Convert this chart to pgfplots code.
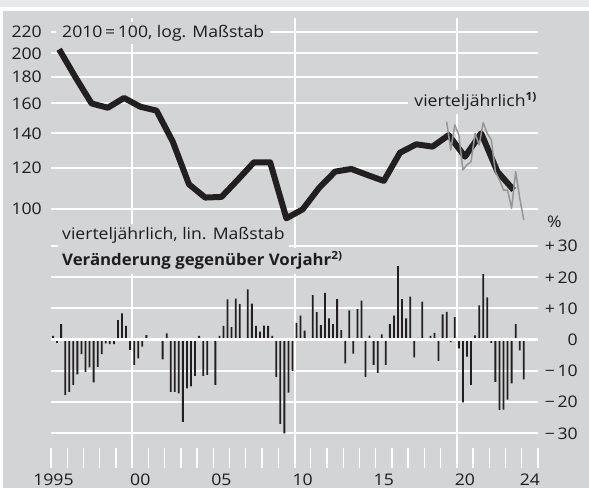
\documentclass[border=0pt]{standalone}
\usepackage{fontspec}
\setmainfont{Open Sans}[FakeStretch=1.1, BoldFeatures={FakeStretch=1.05}]
\usepackage{pgfplots}
\usepackage{pgfplotstable}
\pgfplotsset{compat=1.18}
\definecolor{bg}{RGB}{211,212,214}
\definecolor{strip}{RGB}{232,233,235}
\definecolor{txt}{RGB}{30,28,29}
\definecolor{barc}{RGB}{35,31,32}
\definecolor{qline}{RGB}{150,150,150}

\pgfplotstableread{
x y
1995.5 203.7
1996.5 180
1997.5 160
1998.5 157
1999.5 164
2000.5 157.7
2001.5 155
2002.5 135
2003.5 111.6
2004.5 105.2
2005.5 105.5
2006.5 113.8
2007.5 123.1
2008.5 123.1
2009.5 95.9
2010.5 99.8
2011.5 109.7
2012.5 118.1
2013.5 119.5
2014.5 116.3
2015.5 113.3
2016.5 128.5
2017.5 133.4
2018.5 132
2019.5 139
2020.5 126.2
2021.5 140.1
2022.5 118.1
2023.5 108.8
}\annual

\pgfplotstableread{
x y
2019.375 147.5
2019.625 130
2019.875 145.4
2020.125 139
2020.375 119
2020.625 121.7
2020.875 123.5
2021.125 140
2021.375 133
2021.625 146.9
2021.875 140
2022.125 136
2022.375 118
2022.625 113.8
2022.875 108.8
2023.125 108.8
2023.375 100.3
2023.625 118
2023.875 104.9
2024.125 95.2
}\quarterly

\pgfplotstableread{
x y
1995.125 1.2
1995.375 -1.0
1995.625 5.0
1995.875 -17.8
1996.125 -16.7
1996.375 -14.5
1996.625 -11.1
1996.875 -4.6
1997.125 -10.3
1997.375 -8.9
1997.625 -13.7
1997.875 -8.7
1998.125 -4.6
1998.375 -1.2
1998.625 -1.4
1998.875 -1.4
1999.125 6.3
1999.375 8.4
1999.625 4.4
1999.875 -3.3
2000.125 -8.1
2000.375 -6.0
2000.625 -2.2
2000.875 1.5
2001.125 -0.4
2001.375 0.3
2001.625 -0.3
2001.875 -6.3
2002.125 2.0
2002.375 -16.7
2002.625 -16.7
2002.875 -17.2
2003.125 -26.3
2003.375 -15.6
2003.625 -15.0
2003.875 -11.6
2004.125 1.2
2004.375 -11.6
2004.625 -11.3
2004.875 0.3
2005.125 -14.5
2005.375 1.2
2005.625 4.4
2005.875 12.9
2006.125 4.0
2006.375 13.2
2006.625 11.4
2006.875 0.3
2007.125 16.1
2007.375 11.6
2007.625 4.4
2007.875 2.6
2008.125 4.5
2008.375 4.4
2008.625 1.2
2008.875 -11.9
2009.125 -27.0
2009.375 -30.0
2009.625 -17.0
2009.875 -10.0
2010.125 5.4
2010.375 7.7
2010.625 2.9
2010.875 -0.2
2011.125 14.3
2011.375 8.8
2011.625 4.7
2011.875 15.0
2012.125 6.8
2012.375 5.0
2012.625 13.0
2012.875 3.1
2013.125 -7.6
2013.375 9.4
2013.625 -4.5
2013.875 9.8
2014.125 12.5
2014.375 -11.9
2014.625 1.3
2014.875 -8.1
2015.125 -10.6
2015.375 1.7
2015.625 -8.1
2015.875 5.0
2016.125 7.7
2016.375 23.6
2016.625 13.0
2016.875 6.8
2017.125 13.8
2017.375 -5.7
2017.625 0.6
2017.875 12.2
2018.125 0.3
2018.375 1.2
2018.625 2.2
2018.875 -6.8
2019.125 8.1
2019.375 8.9
2019.625 -0.8
2019.875 7.2
2020.125 -2.8
2020.375 -20.1
2020.625 -5.4
2020.875 -14.5
2021.125 1.4
2021.375 11.0
2021.625 21.0
2021.875 13.6
2022.125 -1.0
2022.375 -13.5
2022.625 -22.5
2022.875 -22.4
2023.125 -19.2
2023.375 -14.0
2023.625 5.0
2023.875 -3.4
2024.125 -12.7
}\change

\begin{document}
\begin{tikzpicture}[font=\fontsize{16bp}{19bp}\selectfont,text=txt]
\fill[white] (0bp,0bp) rectangle (589bp,488bp);
\fill[strip] (0bp,481bp) rectangle (589bp,488bp);
\fill[bg] (3bp,0bp) rectangle (589bp,477bp);

% top panel: index, log scale
\begin{axis}[
  at={(51bp,263bp)}, anchor=south west, scale only axis,
  width=487bp, height=207bp,
  xmin=1995, xmax=2025, ymode=log, ymin=93.1, ymax=234.2,
  axis line style={draw=none},
  xtick={2000,2010,2020}, xticklabels={},
  ytick={100,120,140,160,180,200,220},
  yticklabels={100,120,140,160,180,200,220},
  major tick length=0.01bp, tick style={draw=none},
  yticklabel style={anchor=east, inner sep=0pt, xshift=-9bp, text=txt},
  grid=major, major grid style={white, line width=2bp},
]
\addplot[no marks, line width=6bp, color=barc, line join=round] table[x=x,y=y]{\annual};
\addplot[no marks, line width=1.5bp, color=qline, line join=round] table[x=x,y=y]{\quarterly};
\end{axis}

% bottom panel: change, linear
\begin{axis}[
  at={(51bp,263bp)}, anchor=north west, scale only axis,
  width=487bp, height=243bp,
  xmin=1995, xmax=2025, ymin=-41.12, ymax=36.76,
  axis line style={draw=none},
  major tick length=0.01bp, tick style={draw=none},
  xtick={2000,2010,2020}, xticklabels={},
  ytick={-30,-20,-10,0,10,20,30},
  yticklabels={−\,30,−\,20,−\,10,0,+\,10,+\,20,+\,30},
  yticklabel pos=right,
  yticklabel style={anchor=east, inner sep=0pt, xshift=40bp, text=txt},
  grid=major, major grid style={white, line width=2bp},
]
\addplot[ybar, bar width=1.8bp, bar shift=0pt, fill=barc, draw=none] table[x=x,y=y]{\change};
\draw[white, line width=3.5bp] (axis cs:1995,0) -- (axis cs:2025,0);
\end{axis}

% year ticks and labels
\begin{axis}[
  at={(51bp,20bp)}, anchor=south west, scale only axis,
  width=487bp, height=20bp,
  xmin=1995, xmax=2025, ymin=0, ymax=1,
  axis line style={draw=none}, ytick=\empty,
  xtick={1995,1996,...,2025}, xticklabels={},
  xtick pos=bottom, tick align=inside, major tick length=20bp,
  major tick style={white, line width=1.3bp},
  extra x ticks={1995.15,2000.5,2005.5,2010.5,2015.5,2020.5,2024.5},
  extra x tick labels={1995,00,05,10,15,20,24},
  extra x tick style={major tick length=0.01bp, tick style={draw=none},
    xticklabel style={anchor=base, inner sep=0pt, yshift=-17.5bp, text=txt}},
]
\end{axis}

\node[fill=bg, inner xsep=6bp, inner ysep=3bp, anchor=base west] at (56bp,450.7bp) {2010\,=\,100, log. Maßstab};
\node[fill=bg, inner xsep=6bp, inner ysep=3bp, anchor=base east] at (543bp,381bp) {vierteljährlich\textsuperscript{\bfseries 1)}};
\node[fill=bg, inner xsep=4bp, inner ysep=4bp, anchor=base west] at (58bp,248bp) {vierteljährlich, lin. Maßstab};
\node[fill=bg, inner xsep=4bp, inner ysep=4bp, anchor=base west] at (58bp,222bp) {\bfseries Veränderung gegenüber Vorjahr\textsuperscript{2)}};
\node[anchor=west, inner sep=0pt] at (547bp,266bp) {\%};

\pgfresetboundingbox
\path[use as bounding box] (0bp,0bp) rectangle (589bp,488bp);
\end{tikzpicture}
\end{document}
